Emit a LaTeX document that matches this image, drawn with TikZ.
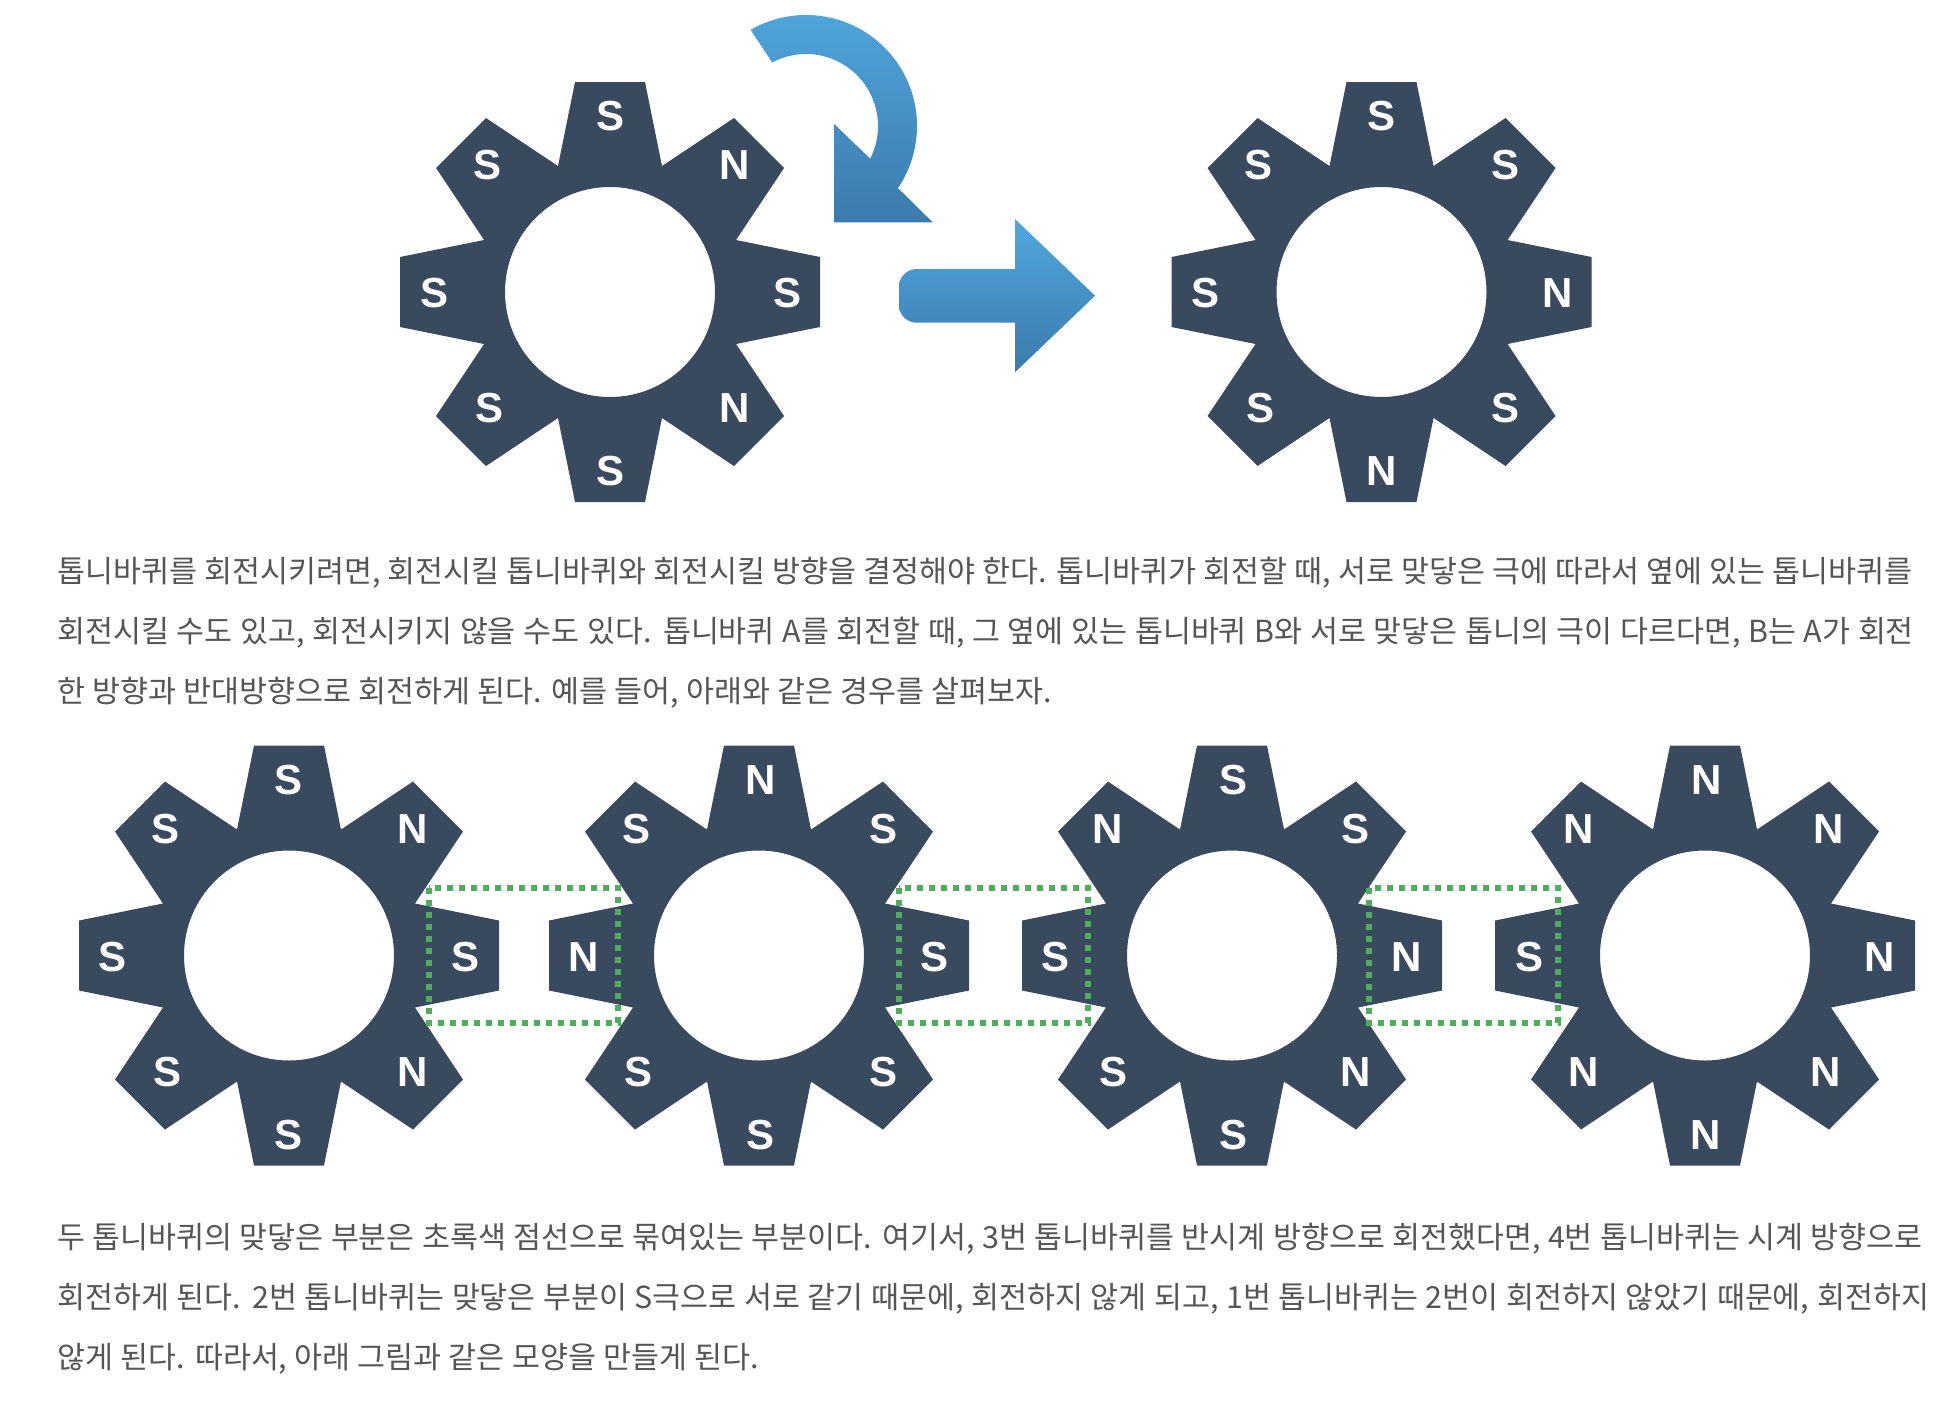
\documentclass[tikz,border=0pt]{standalone}
\usepackage{fontspec}
\setmainfont{Liberation Sans}
\newfontfamily\krfont{Noto Sans CJK KR}
\usetikzlibrary{calc}
\definecolor{gearblue}{HTML}{3A4A5E}
\definecolor{dotgreen}{HTML}{4FAE5C}
\definecolor{arrowtop}{HTML}{4FA7DE}
\definecolor{arrowbot}{HTML}{3C7BAD}
\definecolor{bodygray}{HTML}{555555}
\tikzset{
	poletext/.style={text=white,font=\fontsize{23.9}{24}\selectfont\bfseries,inner sep=0pt},
	bodytext/.style={text=bodygray,font=\krfont\fontsize{17.3}{18}\selectfont,anchor=base west,inner sep=0pt},
	dotbox/.style={draw=dotgreen,line width=0.12cm,dash pattern=on 0.12cm off 0.12cm},
	arrowfill/.style={top color=arrowtop,bottom color=arrowbot,draw=none}
}
% gear: name, x, y, then the eight poles clockwise from the top
\def\gearwheel#1(#2,#3)#4{
	\fill[gearblue,even odd rule,shift={(#2,#3)}]
		(-35,-210) -- (35,-210) -- (52,-126) -- (124,-174) -- (174,-124) -- (126,-52)
		-- (210,-35) -- (210,35) -- (126,52) -- (174,124) -- (124,174) -- (52,126)
		-- (35,210) -- (-35,210) -- (-52,126) -- (-124,174) -- (-174,124) -- (-126,52)
		-- (-210,35) -- (-210,-35) -- (-126,-52) -- (-174,-124) -- (-124,-174) -- (-52,-126)
		-- cycle (0,0) circle (105);
	\foreach \ox/\oy/\pole [count=\i] in {#4}
		\node[poletext] (#1-\i) at ($(#2,#3)+(\ox,\oy)$) {\pole};
}
\begin{document}
\begin{tikzpicture}[x=0.02cm,y=-0.02cm]
	\useasboundingbox (0,0) rectangle (1944,1400);
	%%%%% TOP ROW %%%%%
	\gearwheel{top1}(610,292){0/-176/S,125/-127/N,177/1/S,125/116/N,0/179/S,-121/116/S,-176/1/S,-123/-127/S}
	\gearwheel{top2}(1381.5,292){0/-176/S,124/-127/S,176/1/N,124/116/S,0/179/N,-121/116/S,-176/1/S,-123/-127/S}

	\shade[arrowfill] ($(806,126)+(-120:111)$) arc (-120:34:111) -- (932.6,222.3) -- (834.2,222.3)
		-- (834.2,124) -- ($(806,126)+(27:72)$) arc (27:-118:72) -- cycle;
	\shade[arrowfill] (899,295) [rounded corners=10pt] -- (899,269) -- (950,269) [sharp corners] -- (1015,269)
		-- (1015,219) -- (1095,295.7) -- (1015,372.3) -- (1015,322.7) -- (950,322.7) [rounded corners=10pt]
		-- (899,322.7) -- (899,295) -- cycle;

	%%%%% TEXT %%%%%
	\node[bodytext] (lineA) at (57,582) {\makebox[37.11cm][s]{톱니바퀴를 회전시키려면, 회전시킬 톱니바퀴와 회전시킬 방향을 결정해야 한다. 톱니바퀴가 회전할 때, 서로 맞닿은 극에 따라서 옆에 있는 톱니바퀴를}};
	\node[bodytext] (lineB) at (57,642) {\makebox[37.14cm][s]{회전시킬 수도 있고, 회전시키지 않을 수도 있다. 톱니바퀴 A를 회전할 때, 그 옆에 있는 톱니바퀴 B와 서로 맞닿은 톱니의 극이 다르다면, B는 A가 회전}};
	\node[bodytext] (lineC) at (57,702) {\makebox[19.89cm][s]{한 방향과 반대방향으로 회전하게 된다. 예를 들어, 아래와 같은 경우를 살펴보자.}};

	%%%%% SECOND ROW %%%%%
	\gearwheel{low1}(289,955.5){0/-175/S,124/-126/N,176/2/S,124/117/N,0/180/S,-121/117/S,-176/2/S,-123/-126/S}
	\gearwheel{low2}(759,955.5){2/-175/N,124/-126/S,175/2/S,124/117/S,1/180/S,-121/117/S,-175/2/N,-123/-126/S}
	\gearwheel{low3}(1232,955.5){1/-175/S,123/-126/S,175/2/N,124/117/N,1/180/S,-119/117/S,-177/2/S,-124/-126/N}
	\gearwheel{low4}(1705,955.5){2/-175/N,124/-126/N,175/2/N,121/117/N,1/180/N,-121/117/N,-176/2/S,-126/-126/N}

	\draw[dotbox] (429,888) rectangle (618,1023);
	\draw[dotbox] (899,888) rectangle (1088,1023);
	\draw[dotbox] (1369,888) rectangle (1558,1023);

	\node[bodytext] (lineD) at (57,1248) {\makebox[37.31cm][s]{두 톱니바퀴의 맞닿은 부분은 초록색 점선으로 묶여있는 부분이다. 여기서, 3번 톱니바퀴를 반시계 방향으로 회전했다면, 4번 톱니바퀴는 시계 방향으로}};
	\node[bodytext] (lineE) at (57,1308) {\makebox[37.44cm][s]{회전하게 된다. 2번 톱니바퀴는 맞닿은 부분이 S극으로 서로 같기 때문에, 회전하지 않게 되고, 1번 톱니바퀴는 2번이 회전하지 않았기 때문에, 회전하지}};
	\node[bodytext] (lineF) at (57,1368) {\makebox[14.03cm][s]{않게 된다. 따라서, 아래 그림과 같은 모양을 만들게 된다.}};
\end{tikzpicture}
\end{document}
